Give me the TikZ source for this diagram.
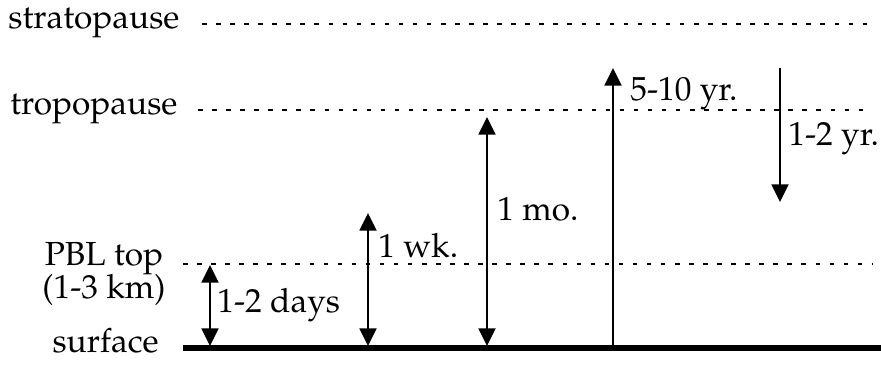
\documentclass[tikz,border=0pt]{standalone}
\usepackage[T1]{fontenc}
\usepackage{mathpazo}
\usetikzlibrary{arrows.meta,positioning}

\begin{document}
\begin{tikzpicture}[
  x=0.02cm, y=-0.02cm,
  lvl/.style={line width=1.3pt, dash pattern=on 2.6pt off 5.4pt},
  grnd/.style={line width=3.2pt},
  tip/.style={line width=1.6pt, -{Triangle[length=10pt, width=9.5pt]}},
  both/.style={line width=1.6pt, {Triangle[length=10pt, width=9.5pt]}-{Triangle[length=10pt, width=9.5pt]}},
  lab/.style={font=\fontsize{19}{20}\selectfont, inner sep=0pt},
]
\useasboundingbox (0,0) rectangle (881,366);
\def\ys{24} \def\yt{110} \def\yp{264} \def\yg{348}
% ---------------- levels
\node[lab, anchor=mid west] (strat) at (8,\ys) {stratopause};
\node[lab, anchor=mid west] (trop) at (10,\yt) {tropopause};
\node[lab, anchor=base] (pbl) at (104,265) {PBL top};
\node[lab, anchor=base] (pblkm) at (104,298) {(1-3 km)};
\node[lab, anchor=mid east] (surf) at (159,\yg) {surface};
\draw[lvl] (202,\ys) -- (872,\ys);
\draw[lvl] (198,\yt) -- (872,\yt);
\draw[lvl] (183,\yp) -- (872,\yp);
\draw[grnd] (183,\yg) -- (881,\yg);
% ---------------- exchange times
\coordinate (days0) at (210,346); \coordinate (days1) at (210,265);
\coordinate (wk0) at (368,346);   \coordinate (wk1) at (368,213);
\coordinate (mo0) at (487,346);   \coordinate (mo1) at (487,117);
\coordinate (up0) at (613,\yg);   \coordinate (up1) at (613,68);
\coordinate (dn0) at (780,68);    \coordinate (dn1) at (780,202);
\draw[both] (days0) -- (days1);
\draw[both] (wk0) -- (wk1);
\draw[both] (mo0) -- (mo1);
\draw[tip] (up0) -- (up1);
\draw[tip] (dn0) -- (dn1);
\node[lab, anchor=base west] (tdays) at (217,312) {1-2 days};
\node[lab, anchor=base west] (twk) at (378,257) {1 wk.};
\node[lab, anchor=base west] (tmo) at (497,220) {1 mo.};
\node[lab, anchor=base west] (tup) at (630,100) {5-10 yr.};
\node[lab, anchor=base west] (tdn) at (788,145) {1-2 yr.};
\end{tikzpicture}
\end{document}
